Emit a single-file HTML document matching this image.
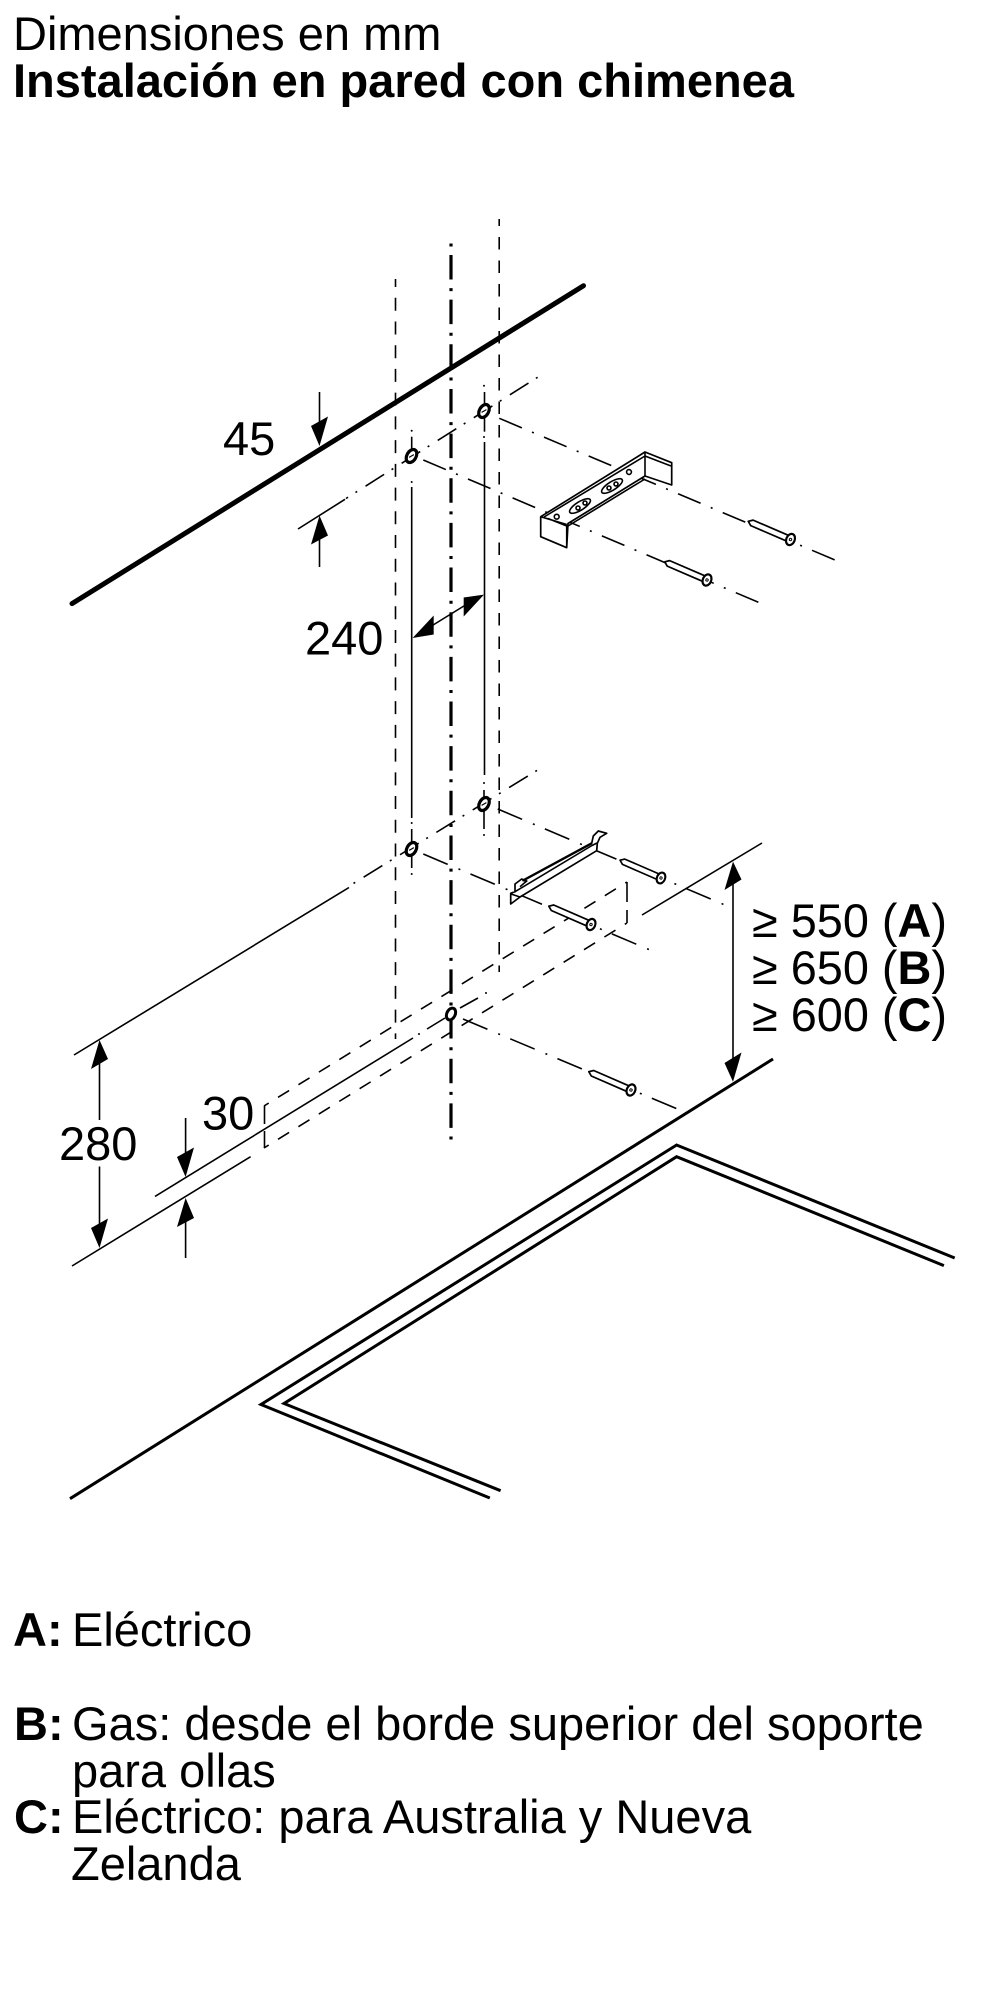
<!DOCTYPE html>
<html><head><meta charset="utf-8"><style>
html,body{margin:0;padding:0;background:#fff}
svg{display:block}
text{font-family:"Liberation Sans",Arial,sans-serif;font-size:47px;fill:#000}
.b{font-weight:bold}
.t{stroke:#000;stroke-width:1.6;fill:none}
.dd{stroke:#000;stroke-width:1.6;fill:none;stroke-dasharray:24.5 11 2 11}
.dl{stroke:#000;stroke-width:1.6;fill:none;stroke-dasharray:26.5 11.7 2 11}
.dg{stroke:#000;stroke-width:1.6;fill:none;stroke-dasharray:2 8.8 22 9.9}
.ds{stroke:#000;stroke-width:1.6;fill:none;stroke-dasharray:13 11;stroke-dashoffset:7.5}
.o{stroke:#000;stroke-width:1.7;fill:#fff;stroke-linejoin:round}
</style></head><body>
<svg width="1000" height="2000" viewBox="0 0 1000 2000" xmlns="http://www.w3.org/2000/svg">
<defs>
<g id="sc">
<path class="o" d="M-46 0L-42 -3L-3 -3L-3 3L-42 3Z"/>
<ellipse cx="0" cy="0" rx="4.2" ry="5.8" fill="#fff" stroke="#000" stroke-width="2.2"/>
<circle cx="0" cy="0" r="1.2" fill="none" stroke="#000" stroke-width="1"/>
</g>
<g id="hl">
<ellipse cx="0" cy="0" rx="4.6" ry="7" transform="rotate(30)" fill="#fff" stroke="#000" stroke-width="3.2"/>
<line x1="-2.4" y1="1.4" x2="2.4" y2="-1.4" stroke="#000" stroke-width="1.2"/>
</g>
</defs>

<text x="13" y="50">Dimensiones en mm</text>
<text x="13" y="97" class="b">Instalación en pared con chimenea</text>

<!-- dashed verticals -->
<line x1="395.5" y1="279" x2="395.5" y2="1039" stroke="#000" stroke-width="1.6" stroke-dasharray="13 10.73" stroke-dashoffset="5"/>
<line x1="499.2" y1="219" x2="499.2" y2="972" stroke="#000" stroke-width="1.6" stroke-dasharray="12.5 11" stroke-dashoffset="5.5"/>

<!-- center line -->
<line x1="451" y1="243.5" x2="451" y2="1140" stroke="#000" stroke-width="3.2" stroke-dasharray="3 8.5 24.5 8.65"/>

<!-- wall line -->
<line x1="72" y1="603.6" x2="583.5" y2="285.7" stroke="#000" stroke-width="5" stroke-linecap="round"/>

<!-- thin verticals with hole extensions -->
<g stroke="#000" stroke-width="1.6">
<line x1="411.7" y1="487" x2="411.7" y2="818"/>
<line x1="411.7" y1="436.7" x2="411.7" y2="463"/>
<line x1="411.7" y1="829" x2="411.7" y2="868"/>
<line x1="484.5" y1="442" x2="484.5" y2="775"/>
<line x1="484.5" y1="392" x2="484.5" y2="431.7"/>
<line x1="484" y1="790" x2="484" y2="829"/>
</g>
<g fill="#000">
<circle cx="411.7" cy="430.7" r="1"/><circle cx="411.7" cy="482" r="1"/><circle cx="411.7" cy="823" r="1"/><circle cx="411.7" cy="874" r="1"/>
<circle cx="484" cy="385.7" r="1"/><circle cx="484" cy="437" r="1"/><circle cx="484" cy="783" r="1"/><circle cx="484" cy="835" r="1"/>
</g>

<!-- upward diagonals -->
<line class="dg" x1="537.6" y1="377.3" x2="346" y2="498.5"/>
<line class="t" x1="298" y1="529" x2="345" y2="499.3"/>
<line class="dg" x1="537" y1="770.4" x2="352" y2="884.3"/>
<line class="t" x1="74" y1="1055" x2="349" y2="887.5"/>

<!-- down-right dash-dot rows -->
<line class="dd" x1="499.3" y1="418.3" x2="844" y2="563.8"/>
<line class="dd" x1="423.3" y1="460" x2="761" y2="603.4"/>
<line class="dl" x1="497.7" y1="809" x2="724.5" y2="904.8"/>
<line class="dl" x1="423.3" y1="854" x2="650" y2="950"/>
<line class="dl" x1="463" y1="1019" x2="677.5" y2="1109"/>

<!-- box dashed -->
<line class="ds" x1="264" y1="1106" x2="627" y2="882"/>
<line class="ds" x1="264" y1="1148" x2="627" y2="923"/>
<line x1="264.5" y1="1106" x2="264.5" y2="1148" stroke="#000" stroke-width="1.6" stroke-dasharray="18 7"/>
<line x1="627" y1="882" x2="627" y2="923" stroke="#000" stroke-width="1.6" stroke-dasharray="20 8"/>

<!-- middle solid + dashes -->
<line class="t" x1="155" y1="1196.4" x2="413" y2="1038"/>
<line class="t" x1="427" y1="1029" x2="445" y2="1018"/>
<line class="t" x1="460" y1="1008" x2="478" y2="998"/>
<circle cx="419" cy="1034" r="1"/><circle cx="486" cy="993" r="1"/>
<line class="t" x1="72" y1="1266" x2="250.6" y2="1156.7"/>
<line class="t" x1="642" y1="915" x2="762" y2="843"/>

<!-- holes -->
<use href="#hl" x="484" y="411"/>
<use href="#hl" x="411.5" y="456"/>
<use href="#hl" x="484" y="804"/>
<use href="#hl" x="411.5" y="849"/>
<g transform="translate(451,1014)">
<ellipse cx="0" cy="0" rx="4.2" ry="6.2" transform="rotate(25)" fill="#fff" stroke="#000" stroke-width="3"/>
</g>

<!-- upper bracket -->
<path class="o" d="M540.7 516.7L645 452L671.7 462.7L671.7 485L645 476L568 523.5L566.7 547.7L540.7 536.7Z"/>
<path class="t" d="M540.7 516.7L566.7 524.5M645 452L645 476M544 517L645 456M548 518.5L566.7 526M645 456L671 466M566.7 524.5L566.7 547.7M568 526L645 479"/>
<ellipse cx="580" cy="506" rx="12" ry="4.2" transform="rotate(-32 580 506)" class="t"/>
<ellipse cx="612" cy="486" rx="12" ry="4.2" transform="rotate(-32 612 486)" class="t"/>
<circle cx="578" cy="508" r="2" class="t"/><circle cx="585" cy="503" r="2" class="t"/>
<circle cx="609" cy="488" r="2" class="t"/><circle cx="616" cy="484" r="2" class="t"/>
<circle cx="556.7" cy="516.7" r="2.4" class="t"/><circle cx="629" cy="472" r="2.4" class="t"/>

<!-- lower bracket -->
<path class="o" d="M515 884L521.7 879L526.7 881L523 880.5L591.7 843.3L593.3 836L598.3 831L606.7 833.3L600 837.3L597.3 843.3L596.7 850.7L520 897L510.7 904L510.7 893.3L515 891.7Z"/>
<path class="t" d="M515 891.7L592 845.5M511 894L520 897M520 886.7L526.7 881M597 843L592 845.5"/>
<line x1="523" y1="880.5" x2="591.7" y2="843.3" stroke="#000" stroke-width="2.4"/>

<!-- screws -->
<use href="#sc" transform="translate(790.5,539.5) rotate(23.3)"/>
<use href="#sc" transform="translate(707,580) rotate(23.3)"/>
<use href="#sc" transform="translate(661,878) rotate(23.5) scale(.97)"/>
<use href="#sc" transform="translate(591,924.5) rotate(23.5)"/>
<use href="#sc" transform="translate(631,1090) rotate(23.5)"/>

<!-- worktop -->
<line x1="773" y1="1059" x2="70" y2="1498.7" stroke="#000" stroke-width="3"/>
<polyline points="954.7,1258 676.6,1145 261,1404.5 489.8,1498" fill="none" stroke="#000" stroke-width="3"/>
<polyline points="943.9,1265.6 676.6,1156.7 284,1403.5 500.6,1490.7" fill="none" stroke="#000" stroke-width="3"/>

<!-- dims -->
<g stroke="#000" stroke-width="1.6">
<line x1="319.5" y1="392" x2="319.5" y2="425"/>
<line x1="319.5" y1="535" x2="319.5" y2="567"/>
<line x1="185.6" y1="1118" x2="185.6" y2="1155"/>
<line x1="185.6" y1="1222" x2="185.6" y2="1258"/>
<line x1="99.5" y1="1060" x2="99.5" y2="1120"/>
<line x1="99.5" y1="1166.5" x2="99.5" y2="1225"/>
<line x1="733" y1="880" x2="733" y2="1062"/>
<line x1="425" y1="630" x2="472" y2="601"/>
</g>
<g fill="#000">
<polygon points="319.5,446 311,426 328,416.5"/>
<polygon points="319.5,515.6 311,544.5 328,535.5"/>
<polygon points="185.6,1177 177,1157 194,1147.5"/>
<polygon points="185.6,1198 177,1227 194,1218"/>
<polygon points="99.5,1040 91,1069 108,1059"/>
<polygon points="99.5,1248 91,1228 108,1218.5"/>
<polygon points="733,861.6 724.5,890 741.5,879.5"/>
<polygon points="733,1081.7 724.5,1063 741.5,1052.5"/>
<polygon points="412.6,638 433.7,615.5 433.7,634.5"/>
<polygon points="484,594.6 463.7,597.5 463.7,616.5"/>
</g>

<text x="223" y="455">45</text>
<text x="305" y="654.5">240</text>
<text x="202" y="1129.5">30</text>
<text x="59" y="1160">280</text>
<text x="752" y="937" textLength="195" lengthAdjust="spacingAndGlyphs">≥ 550 (<tspan class="b">A</tspan>)</text>
<text x="752" y="984" textLength="195" lengthAdjust="spacingAndGlyphs">≥ 650 (<tspan class="b">B</tspan>)</text>
<text x="752" y="1031" textLength="195" lengthAdjust="spacingAndGlyphs">≥ 600 (<tspan class="b">C</tspan>)</text>

<text x="13" y="1646" class="b">A:</text><text x="72" y="1646">Eléctrico</text>
<text x="14" y="1740" class="b">B:</text><text x="72" y="1740">Gas: desde el borde superior del soporte</text>
<text x="72" y="1787">para ollas</text>
<text x="14" y="1833" class="b">C:</text><text x="72" y="1833">Eléctrico: para Australia y Nueva</text>
<text x="71" y="1880">Zelanda</text>
</svg>
</body></html>
